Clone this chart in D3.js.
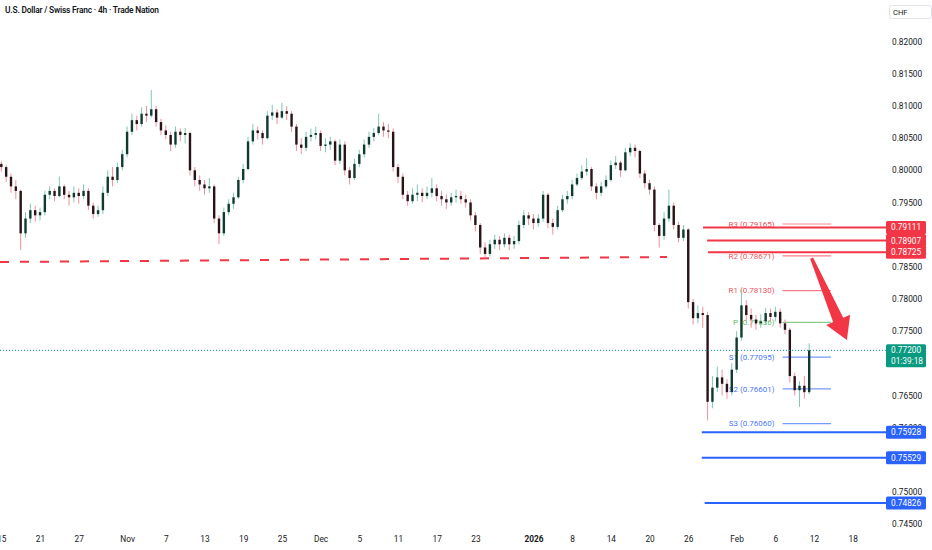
<!DOCTYPE html>
<meta charset="utf-8">
<script src="https://d3js.org/d3.v7.min.js"></script>
<style>
    body { margin: 0; background: #ffffff; }
    svg text { font-family: Roboto, "Noto Sans", sans-serif; fill: #131722; }
    .axis text { font-size: 8.3px; }
    .axis path, .axis line { display: none; }
    .pivot text { font-size: 8px; }
</style>

<div id="vis"></div>

<script>
    var width = 932
    var height = 550
    var plotRight = 886

    // USD/CHF 4h (open = previous close)
    var firstOpen = 0.8010
    var closes = [
        .8005,.7990,.7975,.7968,.7902,.7925,.7938,.7930,.7935,.7962,
        .7968,.7960,.7975,.7962,.7958,.7965,.7960,.7968,.7945,.7932,
        .7938,.7965,.7990,.7985,.8005,.8025,.8060,.8078,.8072,.8088,
        .8085,.8095,.8075,.8062,.8055,.8040,.8060,.8055,.8058,.8000,
        .7985,.7978,.7972,.7975,.7925,.7902,.7935,.7948,.7958,.7985,
        .8002,.8045,.8062,.8058,.8050,.8085,.8090,.8082,.8092,.8088,
        .8068,.8040,.8035,.8052,.8055,.8058,.8038,.8040,.8045,.8015,
        .8040,.8000,.7988,.8010,.8025,.8040,.8052,.8058,.8068,.8062,
        .8060,.8005,.7990,.7962,.7952,.7962,.7965,.7960,.7965,.7972,
        .7960,.7955,.7950,.7958,.7960,.7955,.7950,.7930,.7915,.7880,
        .7870,.7885,.7892,.7885,.7895,.7885,.7890,.7915,.7930,.7925,
        .7918,.7925,.7962,.7918,.7912,.7938,.7955,.7960,.7978,.7988,
        .7998,.8002,.7975,.7965,.7975,.7985,.8008,.8012,.8000,.8028,
        .8035,.8030,.7995,.7980,.7970,.7915,.7898,.7925,.7945,.7915,
        .7895,.7908,.7795,.7770,.7778,.7775,.7640,.7662,.7678,.7668,
        .7655,.7690,.7740,.7790,.7775,.7768,.7762,.7765,.7778,.7772,
        .7780,.7762,.7752,.7680,.7658,.7665,.7655,.7720
    ]
    var highs = [
        .8014,.8008,.7995,.7985,.7970,.7935,.7948,.7945,.7942,.7968,
        .7975,.7972,.7990,.7978,.7968,.7975,.7972,.7978,.7972,.7950,
        .7945,.7975,.8000,.8005,.8012,.8032,.8068,.8088,.8085,.8098,
        .8100,.8125,.8100,.8080,.8070,.8060,.8068,.8065,.8066,.8060,
        .8005,.7992,.7985,.7988,.7978,.7930,.7942,.7955,.7965,.7990,
        .8010,.8052,.8072,.8068,.8062,.8092,.8102,.8095,.8105,.8100,
        .8092,.8072,.8050,.8060,.8065,.8068,.8062,.8050,.8052,.8048,
        .8048,.8045,.8005,.8018,.8032,.8048,.8060,.8066,.8088,.8075,
        .8072,.8065,.8010,.7995,.7968,.7972,.7978,.7972,.7975,.7988,
        .7978,.7968,.7962,.7965,.7970,.7968,.7962,.7955,.7935,.7918,
        .7888,.7892,.7900,.7898,.7902,.7900,.7898,.7922,.7938,.7935,
        .7932,.7932,.7968,.7965,.7925,.7945,.7962,.7968,.7985,.7995,
        .8008,.8019,.8005,.7980,.7982,.7992,.8015,.8022,.8015,.8035,
        .8042,.8040,.8032,.8000,.7985,.7975,.7918,.7935,.7970,.7950,
        .7920,.7915,.7910,.7800,.7790,.7788,.7780,.7680,.7695,.7690,
        .7675,.7700,.7750,.7814,.7798,.7785,.7775,.7776,.7786,.7785,
        .7788,.7785,.7768,.7755,.7685,.7672,.7680,.7731
    ]
    var lows = [
        .7998,.7982,.7965,.7955,.7876,.7895,.7918,.7920,.7922,.7930,
        .7955,.7952,.7958,.7955,.7945,.7950,.7948,.7955,.7938,.7925,
        .7928,.7932,.7960,.7975,.7980,.8000,.8020,.8055,.8062,.8068,
        .8075,.8082,.8068,.8055,.8048,.8030,.8035,.8045,.8042,.7992,
        .7975,.7968,.7962,.7965,.7918,.7885,.7898,.7930,.7940,.7955,
        .7980,.8000,.8040,.8048,.8040,.8048,.8078,.8072,.8080,.8078,
        .8060,.8030,.8025,.8030,.8045,.8048,.8030,.8028,.8032,.8008,
        .8010,.7992,.7978,.7985,.8005,.8020,.8035,.8045,.8055,.8052,
        .8050,.7998,.7980,.7955,.7945,.7948,.7952,.7950,.7955,.7958,
        .7952,.7945,.7940,.7945,.7950,.7948,.7942,.7922,.7905,.7870,
        .7865,.7866,.7878,.7876,.7880,.7876,.7878,.7885,.7910,.7915,
        .7908,.7912,.7920,.7910,.7900,.7908,.7935,.7948,.7955,.7975,
        .7985,.7992,.7968,.7955,.7960,.7972,.7982,.8002,.7990,.7998,
        .8022,.8020,.7988,.7972,.7962,.7905,.7880,.7892,.7920,.7908,
        .7888,.7890,.7785,.7760,.7762,.7755,.7611,.7630,.7655,.7650,
        .7645,.7650,.7685,.7735,.7765,.7755,.7752,.7755,.7760,.7765,
        .7765,.7755,.7745,.7670,.7650,.7632,.7645,.7652
    ]

    // calendar: forex weekdays, two candles per day, holidays without bars
    var firstDay = "2025-10-15"
    var lastDay = "2026-02-21"
    var slotsPerDay = 2
    var holidays = ["2025-12-25", "2026-01-01"]

    var tickDates = ["2025-10-15","2025-10-21","2025-10-27","2025-11-03","2025-11-07","2025-11-13",
                     "2025-11-19","2025-11-25","2025-12-01","2025-12-05","2025-12-11","2025-12-17",
                     "2025-12-23","2026-01-02","2026-01-08","2026-01-14","2026-01-20","2026-01-26",
                     "2026-02-02","2026-02-06","2026-02-12","2026-02-18"]
    var tickLabels = ["15","21","27","Nov","7","13","19","25","Dec","5","11","17",
                      "23","2026","8","14","20","26","Feb","6","12","18"]

    // price scale labels that are not hidden behind a price tag
    var priceTicks = [0.745,0.750,0.760,0.765,0.775,0.780,0.785,
                      0.795,0.800,0.805,0.810,0.815,0.820]

    // drawn levels (start given as candle slot)
    var resistance = [0.79111, 0.78907, 0.78725]
    var resistanceFrom = [145.55, 146.4, 146.6]
    var support = [0.75928, 0.75529, 0.74826]
    var supportFrom = [145.3, 145.3, 145.9]

    // weekly pivot points
    var pivotNames = ["R3", "R2", "R1", "P", "S1", "S2", "S3"]
    var pivotValues = [0.79165, 0.78671, 0.78130, 0.77636, 0.77095, 0.76601, 0.76060]
    var pivotFromDate = "2026-02-09"
    var pivotToDate = "2026-02-16"

    var lastPrice = 0.77200
    var countdown = "01:39:18"

    // dashed trend line and arrow, as [slot, price]
    var trendLine = [[0.23, 0.78574], [138.1, 0.78652]]
    var arrowLine = [[168.0, 0.78636], [175.3, 0.77361]]

    var red = "#f23645"
    var blue = "#2962ff"
    var green = "#089981"

    // ---- scales ----
    var fmtDay = d3.timeFormat("%Y-%m-%d")
    var parseDay = d3.timeParse("%Y-%m-%d")
    var dayKeys = d3.timeDay.range(parseDay(firstDay), parseDay(lastDay))
        .filter(function (d) { return d.getDay() % 6 !== 0 && holidays.indexOf(fmtDay(d)) < 0 })
        .map(fmtDay)
    function slotOf(key) { return dayKeys.indexOf(key) * slotsPerDay }

    var x = d3.scaleLinear().domain([0, closes.length]).range([-1.1, 811.6])
    var y = d3.scaleLinear().domain([0.745, 0.82]).range([524, 41.7])

    var candles = closes.map(function (c, i) {
        var o = i === 0 ? firstOpen : closes[i - 1]
        return { i: i, o: o, c: c,
                 h: Math.max(highs[i], o, c),
                 l: Math.min(lows[i], o, c) }
    })

    var svg = d3.select("#vis")
        .append("svg")
        .attr("width", width)
        .attr("height", height)

    svg.append("defs").append("clipPath").attr("id", "plot")
        .append("rect").attr("width", plotRight).attr("height", 526)

    var plot = svg.append("g").attr("clip-path", "url(#plot)")

    // dashed trend line
    plot.append("line")
        .attr("x1", x(trendLine[0][0])).attr("y1", y(trendLine[0][1]))
        .attr("x2", x(trendLine[1][0])).attr("y2", y(trendLine[1][1]))
        .attr("stroke", red).attr("stroke-width", 2)
        .attr("stroke-dasharray", "9,11")

    // pivot points
    var pivotColor = function (name) {
        if (name === "P") return "#4caf50"
        return name[0] === "R" ? red : blue
    }
    var pv = plot.append("g").attr("class", "pivot")
    var px0 = x(slotOf(pivotFromDate)), px1 = x(slotOf(pivotToDate))
    pv.selectAll("line").data(pivotNames).enter().append("line")
        .attr("x1", px0).attr("x2", px1)
        .attr("y1", function (d, i) { return y(pivotValues[i]) })
        .attr("y2", function (d, i) { return y(pivotValues[i]) })
        .attr("stroke", pivotColor)
        .attr("stroke-opacity", function (d) { return d === "R3" ? 0.4 : 0.65 })
        .attr("stroke-width", 1.3)
    pv.selectAll("text").data(pivotNames).enter().append("text")
        .attr("x", px0 - 8)
        .attr("y", function (d, i) { return y(pivotValues[i]) })
        .attr("dy", "0.35em")
        .attr("text-anchor", "end")
        .style("fill", pivotColor)
        .style("fill-opacity", 0.9)
        .text(function (d, i) { return d + " (" + pivotValues[i].toFixed(5) + ")" })

    // candles
    var bodyW = 2.4
    var cg = plot.append("g")
    cg.selectAll("line").data(candles).enter().append("line")
        .attr("x1", function (d) { return x(d.i + 0.5) })
        .attr("x2", function (d) { return x(d.i + 0.5) })
        .attr("y1", function (d) { return y(d.h) })
        .attr("y2", function (d) { return y(d.l) })
        .attr("stroke", function (d) { return d.c >= d.o ? "#7fc9b4" : "#f0919c" })
        .attr("stroke-width", 1)
    cg.selectAll("rect").data(candles).enter().append("rect")
        .attr("x", function (d) { return x(d.i + 0.5) - bodyW / 2 })
        .attr("width", bodyW)
        .attr("y", function (d) { return y(Math.max(d.o, d.c)) })
        .attr("height", function (d) { return Math.max(1, Math.abs(y(d.o) - y(d.c))) })
        .attr("fill", function (d) { return d.c >= d.o ? "#0f3a30" : "#2a1317" })

    // horizontal levels
    plot.selectAll(".res").data(resistance).enter().append("line")
        .attr("x1", function (d, i) { return x(resistanceFrom[i]) }).attr("x2", plotRight)
        .attr("y1", y).attr("y2", y)
        .attr("stroke", red).attr("stroke-width", 2)
    plot.selectAll(".sup").data(support).enter().append("line")
        .attr("x1", function (d, i) { return x(supportFrom[i]) }).attr("x2", plotRight)
        .attr("y1", y).attr("y2", y)
        .attr("stroke", blue).attr("stroke-width", 2)

    // last price line
    plot.append("line")
        .attr("x1", 0).attr("x2", plotRight)
        .attr("y1", y(lastPrice)).attr("y2", y(lastPrice))
        .attr("stroke", green).attr("stroke-width", 1)
        .attr("stroke-dasharray", "1,2")

    // arrow
    var a0 = [x(arrowLine[0][0]), y(arrowLine[0][1])]
    var a1 = [x(arrowLine[1][0]), y(arrowLine[1][1])]
    var len = Math.hypot(a1[0] - a0[0], a1[1] - a0[1])
    var ux = (a1[0] - a0[0]) / len, uy = (a1[1] - a0[1]) / len
    var nx = -uy, ny = ux
    var headLen = 22, headHalf = 13, tailHalf = 1.6, neckHalf = 5.5
    var bx = a1[0] - ux * headLen, by = a1[1] - uy * headLen
    var pts = [
        [a0[0] + nx * tailHalf, a0[1] + ny * tailHalf],
        [bx + nx * neckHalf, by + ny * neckHalf],
        [bx + nx * headHalf, by + ny * headHalf],
        a1,
        [bx - nx * headHalf, by - ny * headHalf],
        [bx - nx * neckHalf, by - ny * neckHalf],
        [a0[0] - nx * tailHalf, a0[1] - ny * tailHalf]
    ]
    svg.append("polygon")
        .attr("points", pts.map(function (p) { return p.join(",") }).join(" "))
        .attr("fill", red)

    // price axis
    svg.append("g")
        .attr("class", "axis")
        .attr("transform", "translate(" + plotRight + ",0)")
        .call(d3.axisRight(y).tickValues(priceTicks).tickFormat(d3.format(".5f")).tickSize(0).tickPadding(6))

    // time axis
    var tickSlots = tickDates.map(slotOf)
    svg.append("g")
        .attr("class", "axis")
        .attr("transform", "translate(0,533)")
        .call(d3.axisBottom(x)
            .tickValues(tickSlots.map(function (s) { return s + 0.5 }))
            .tickFormat(function (d, i) { return tickLabels[i] })
            .tickSize(0).tickPadding(3))
        .selectAll("text")
        .style("font-weight", function (d, i) { return tickLabels[i] === "2026" ? "bold" : null })

    // price label boxes
    function priceBox(v, color) {
        var g = svg.append("g").attr("transform", "translate(" + plotRight + "," + y(v) + ")")
        g.append("rect").attr("x", 0).attr("y", -6.5).attr("width", 40).attr("height", 13)
            .attr("rx", 1.5).attr("fill", color)
        g.append("text").attr("x", 5).attr("dy", "0.35em")
            .style("fill", "#ffffff").style("font-size", "8.3px")
            .text(v.toFixed(5))
    }
    resistance.forEach(function (v) { priceBox(v, red) })
    support.forEach(function (v) { priceBox(v, blue) })

    var lp = svg.append("g").attr("transform", "translate(" + plotRight + "," + y(lastPrice) + ")")
    lp.append("rect").attr("x", 0).attr("y", -6).attr("width", 40).attr("height", 23)
        .attr("rx", 1.5).attr("fill", green)
    lp.append("text").attr("x", 5).attr("dy", "0.35em")
        .style("fill", "#ffffff").style("font-size", "8.3px").text(lastPrice.toFixed(5))
    lp.append("text").attr("x", 5).attr("y", 10.5).attr("dy", "0.35em")
        .style("fill", "#ffffff").style("font-size", "8.3px").text(countdown)

    // currency box
    svg.append("rect").attr("x", 889.5).attr("y", 5.5).attr("width", 42).attr("height", 13)
        .attr("rx", 2).attr("fill", "#ffffff").attr("stroke", "#e0e3eb")
    svg.append("text").attr("x", 893).attr("y", 12).attr("dy", "0.35em")
        .style("font-size", "7.5px").text("CHF")

    // title
    svg.append("text").attr("x", 5).attr("y", 10.5).attr("dy", "0.35em")
        .style("font-size", "8.4px").style("font-weight", 600)
        .style("letter-spacing", "-0.2px")
        .text("U.S. Dollar / Swiss Franc \u00b7 4h \u00b7 Trade Nation")
</script>
